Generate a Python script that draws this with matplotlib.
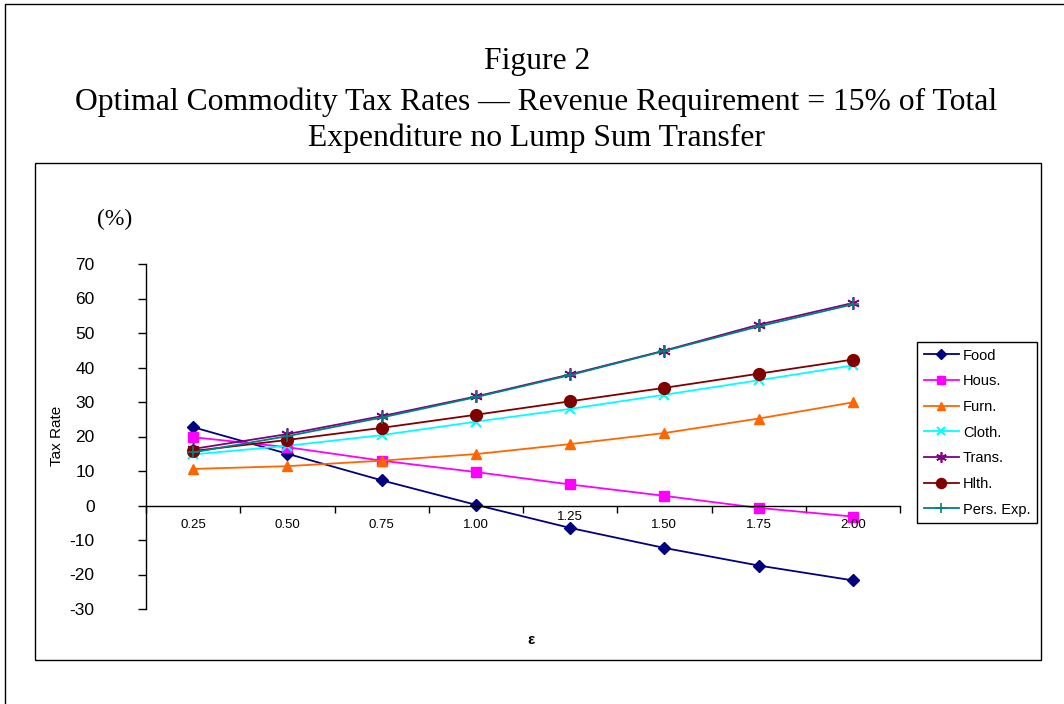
import matplotlib
matplotlib.use("Agg")
import matplotlib.pyplot as plt
from matplotlib.lines import Line2D
import numpy as np

# ---- data ----
epsilon = ["0.25", "0.50", "0.75", "1.00", "1.25", "1.50", "1.75", "2.00"]
food = [22.7, 15.0, 7.3, 0.2, -6.5, -12.3, -17.4, -21.7]
hous = [19.8, 16.9, 13.0, 9.7, 6.1, 2.8, -0.7, -3.2]
furn = [10.6, 11.4, 13.0, 14.9, 17.8, 21.0, 25.2, 29.9]
cloth = [14.8, 17.3, 20.4, 24.3, 28.0, 32.1, 36.3, 40.6]
trans = [16.4, 20.7, 25.9, 31.6, 38.0, 44.9, 52.4, 58.7]
hlth = [15.8, 19.0, 22.5, 26.3, 30.2, 34.1, 38.2, 42.3]
pers = [15.4, 20.1, 25.5, 31.4, 37.8, 44.8, 51.9, 58.3]
series_names = ["Food", "Hous.", "Furn.", "Cloth.", "Trans.", "Hlth.", "Pers. Exp."]
y_ticks = [-30, -20, -10, 0, 10, 20, 30, 40, 50, 60, 70]

W, H = 1064, 704
fig = plt.figure(figsize=(W / 100, H / 100), dpi=100)

def fx(px):
    return px / W

def fy(py):
    return 1 - py / H

# outer border (left and top)
fig.add_artist(Line2D([fx(4.5), fx(4.5), fx(1064)], [fy(704), fy(3.5), fy(3.5)],
                      color="black", lw=1.0, transform=fig.transFigure))
# inner chart box
fig.add_artist(plt.Rectangle((fx(34.5), fy(660)), fx(1041) - fx(34.5), fy(163.5) - fy(660),
                             fill=False, edgecolor="black", lw=1.0, transform=fig.transFigure))

# titles
serif = "Liberation Serif"
tfs = 22.8
fig.text(fx(537), fy(62), "Figure 2", ha="center", va="center", family=serif, fontsize=tfs)
fig.text(fx(536), fy(102), "Optimal Commodity Tax Rates \u2014 Revenue Requirement = 15% of Total",
         ha="center", va="center", family=serif, fontsize=tfs)
fig.text(fx(537), fy(138), "Expenditure no Lump Sum Transfer", ha="center", va="center",
         family=serif, fontsize=tfs)

ax = fig.add_axes([fx(146), fy(609), fx(900) - fx(146), fy(264) - fy(609)])
x = np.arange(len(epsilon))

styles = [
    (food, "#000080", "D", 6, 1.0),
    (hous, "#FF00FF", "s", 7.5, 1.0),
    (furn, "#FF6600", "^", 7.5, 1.0),
    (cloth, "#00FFFF", "x", 7, 1.5),
    (trans, "#800080", (6, 2, 0), 9, 1.2),
    (hlth, "#800000", "o", 8.5, 1.0),
    (pers, "#008080", "+", 8, 1.2),
]
handles = []
for (vals, col, mk, ms, mew), name in zip(styles, series_names):
    h, = ax.plot(x, vals, color=col, marker=mk, markersize=ms, markeredgewidth=mew,
                 markeredgecolor=col, markerfacecolor=col, lw=1.3, label=name, clip_on=False)
    handles.append(h)

ax.set_xlim(-0.5, len(epsilon) - 0.5)
ax.set_ylim(-30, 70)
for s in ["top", "right"]:
    ax.spines[s].set_visible(False)
ax.spines["bottom"].set_position(("data", 0))
ax.spines["left"].set_linewidth(1.0)
ax.spines["bottom"].set_linewidth(1.0)

sans = "Liberation Sans"
ax.set_yticks(y_ticks)
ax.set_yticklabels([str(v) for v in y_ticks], family=sans, fontsize=12.5)
ax.tick_params(axis="y", direction="out", length=6, width=1.0, pad=31)

# x ticks between categories, labels under categories
ax.set_xticks(np.arange(len(epsilon) + 1) - 0.5)
ax.set_xticklabels([])
ax.tick_params(axis="x", which="major", direction="out", length=5, width=1.0)
for i, lab in enumerate(epsilon):
    dy = -20 if lab != "1.25" else -12
    ax.annotate(lab, xy=(i, 0), xycoords="data", xytext=(0, dy), textcoords="offset pixels",
                ha="center", va="center", family=sans, fontsize=9.5)

fig.text(fx(57), fy(436), "Tax Rate", rotation=90, ha="center", va="center", family=sans, fontsize=11)
fig.text(fx(115), fy(219), "(%)", ha="center", va="center", family=serif, fontsize=17)
fig.text(fx(531), fy(640), "\u03b5", ha="center", va="center", family=sans, fontsize=11,
         fontweight="bold")

leg = fig.legend(handles=handles, loc="upper left", bbox_to_anchor=(fx(917), fy(342)),
                 borderaxespad=0, fancybox=False, edgecolor="black", framealpha=1,
                 prop={"family": sans, "size": 10.5}, handlelength=2.4, handletextpad=0.3,
                 labelspacing=0.8, borderpad=0.45, markerscale=0.85)
leg.get_frame().set_linewidth(1.0)

fig.savefig("out.png", dpi=100)
